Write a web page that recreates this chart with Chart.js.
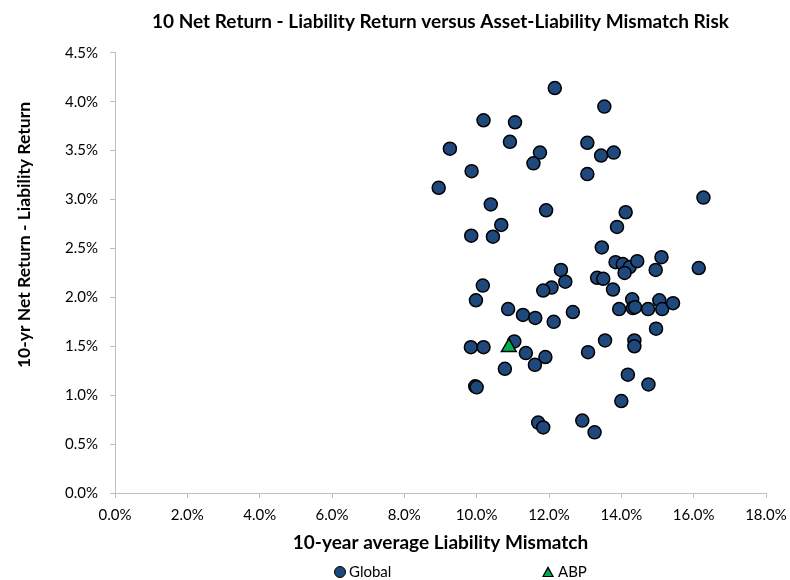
<!DOCTYPE html>
<html>
<head>
<meta charset="utf-8">
<script src="https://cdn.jsdelivr.net/npm/chart.js@4.4.0/dist/chart.umd.min.js"></script>
<style>
  body { margin: 0; background: #fff; }
  #wrap { position: relative; width: 790px; height: 580px; }
  .legend-item { position: absolute; top: 563px; font: 15px Lato, "Open Sans", sans-serif; color: #000; line-height: 17px; }
  .dot { display: inline-block; width: 12px; height: 12px; border-radius: 50%; background: #1F497D; border: 1px solid #000; vertical-align: -1px; margin-right: 3px; box-sizing: border-box; }
  .tri { display: inline-block; width: 0; height: 0; border-left: 6px solid transparent; border-right: 6px solid transparent; border-bottom: 11px solid #000; position: relative; vertical-align: 0; margin-right: 4px; }
  .tri::after { content: ""; position: absolute; left: -4px; top: 3px; border-left: 4px solid transparent; border-right: 4px solid transparent; border-bottom: 7px solid #00B050; }
</style>
</head>
<body>
<div id="wrap">
  <canvas id="scatterChart" width="790" height="580"></canvas>
  <div class="legend-item" style="left:334px"><span class="dot"></span>Global</div>
  <div class="legend-item" style="left:542px"><span class="tri"></span>ABP</div>
</div>
<script>
// values in percent
const globalX = [12.16, 13.53, 10.19, 11.06, 9.26, 10.92, 13.06, 13.44, 13.79, 11.75,
  11.57, 9.86, 13.06, 8.95, 10.39, 11.92, 10.68, 9.85, 10.45, 13.46,
  13.88, 14.12, 16.27, 13.84, 14.04, 14.23, 14.44, 14.09, 15.11, 14.95,
  16.14, 12.33, 12.45, 13.33, 13.50, 13.77, 12.07, 11.84, 10.17, 9.98,
  10.87, 11.28, 11.62, 12.13, 12.66, 14.30, 13.94, 14.32, 14.38, 14.74,
  15.05, 15.13, 15.43, 14.96, 13.55, 13.08, 14.36, 14.36, 14.18, 14.75,
  14.00, 12.92, 13.26, 11.70, 11.84, 9.84, 10.19, 11.04, 11.36, 11.90,
  11.61, 10.78, 9.96, 10.00];
const globalY = [4.14, 3.95, 3.81, 3.79, 3.52, 3.59, 3.58, 3.45, 3.48, 3.48,
  3.37, 3.29, 3.26, 3.12, 2.95, 2.89, 2.74, 2.63, 2.62, 2.51,
  2.72, 2.87, 3.02, 2.36, 2.34, 2.31, 2.37, 2.25, 2.41, 2.28,
  2.30, 2.28, 2.16, 2.20, 2.19, 2.08, 2.10, 2.07, 2.12, 1.97,
  1.88, 1.82, 1.79, 1.75, 1.85, 1.98, 1.88, 1.89, 1.90, 1.88,
  1.97, 1.88, 1.94, 1.68, 1.56, 1.44, 1.56, 1.50, 1.21, 1.11,
  0.94, 0.74, 0.62, 0.72, 0.67, 1.49, 1.49, 1.55, 1.43, 1.39,
  1.31, 1.27, 1.09, 1.08];
const abpX = [10.89];
const abpY = [1.49];

const toPoints = (xs, ys) => xs.map((x, i) => ({ x: x, y: ys[i] }));
const pct = v => v.toFixed(1) + "%";
const fontFamily = "Lato, 'Open Sans', sans-serif";
const axisGrey = "#BFBFBF";
const yTitle = "10-yr Net Return - Liability Return";

// y axis title sits a bit above the middle of the axis in the original
const yTitlePlugin = {
  id: "yTitle",
  afterDraw(chart) {
    const ctx = chart.ctx;
    ctx.save();
    ctx.translate(24, 235);
    ctx.rotate(-Math.PI / 2);
    ctx.font = "bold 17.5px " + fontFamily;
    ctx.fillStyle = "#000";
    ctx.textAlign = "center";
    ctx.textBaseline = "middle";
    ctx.fillText(yTitle, 0, 0);
    ctx.restore();
  }
};

new Chart(document.getElementById("scatterChart"), {
  type: "scatter",
  data: {
    datasets: [{
      label: "Global",
      order: 1,
      data: toPoints(globalX, globalY),
      pointStyle: "circle",
      pointRadius: 6.5,
      pointBackgroundColor: "#1F497D",
      pointBorderColor: "#000",
      pointBorderWidth: 1.5
    }, {
      label: "ABP",
      order: 0,
      data: toPoints(abpX, abpY),
      pointStyle: "triangle",
      pointRadius: 8.5,
      pointBackgroundColor: "#00B050",
      pointBorderColor: "#000",
      pointBorderWidth: 1.5
    }]
  },
  options: {
    responsive: false,
    animation: false,
    layout: { padding: { left: 0, right: 24, top: 0, bottom: 22 } },
    plugins: {
      legend: { display: false },
      tooltip: { enabled: false },
      title: {
        display: true,
        fullSize: false,
        text: "10 Net Return - Liability Return versus Asset-Liability Mismatch Risk",
        color: "#000",
        font: { family: fontFamily, size: 19, weight: "bold" },
        padding: { top: 10, bottom: 20 }
      }
    },
    scales: {
      x: {
        type: "linear",
        min: 0,
        max: 18,
        afterFit: scale => {
          scale.height = 65;
          scale.paddingLeft = 0;
          scale.paddingRight = 0;
        },
        ticks: {
          stepSize: 2,
          color: "#000",
          font: { family: fontFamily, size: 15 },
          callback: v => pct(v),
          padding: 8
        },
        grid: { drawOnChartArea: false, color: axisGrey, tickLength: 5 },
        border: { color: axisGrey },
        title: {
          display: true,
          text: "10-year average Liability Mismatch",
          color: "#000",
          font: { family: fontFamily, size: 19, weight: "bold" },
          padding: { top: 4, bottom: 4 }
        }
      },
      y: {
        min: 0,
        max: 4.5,
        afterFit: scale => { scale.width = 115; },
        ticks: {
          stepSize: 0.5,
          color: "#000",
          font: { family: fontFamily, size: 15 },
          callback: v => pct(v),
          padding: 12
        },
        grid: { drawOnChartArea: false, color: axisGrey, tickLength: 5 },
        border: { color: axisGrey }
      }
    }
  },
  plugins: [yTitlePlugin]
});
</script>
</body>
</html>
